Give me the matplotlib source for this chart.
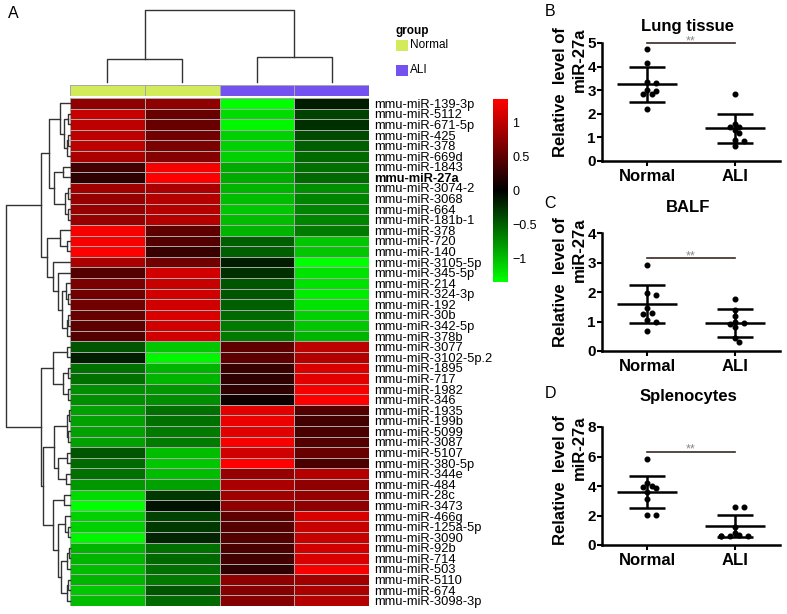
import numpy as np
import matplotlib
matplotlib.use('Agg')
import matplotlib.pyplot as plt
from matplotlib.colors import LinearSegmentedColormap, ListedColormap
from matplotlib.patches import Rectangle

plt.rcParams['font.family'] = ['Liberation Sans', 'DejaVu Sans']

# ---- heatmap data (rows in displayed order) ----
mirnas = ['mmu-miR-139-3p', 'mmu-miR-5112', 'mmu-miR-671-5p', 'mmu-miR-425', 'mmu-miR-378',
          'mmu-miR-669d', 'mmu-miR-1843', 'mmu-miR-27a', 'mmu-miR-3074-2', 'mmu-miR-3068',
          'mmu-miR-664', 'mmu-miR-181b-1', 'mmu-miR-378', 'mmu-miR-720', 'mmu-miR-140',
          'mmu-miR-3105-5p', 'mmu-miR-345-5p', 'mmu-miR-214', 'mmu-miR-324-3p', 'mmu-miR-192',
          'mmu-miR-30b', 'mmu-miR-342-5p', 'mmu-miR-378b', 'mmu-miR-3077', 'mmu-miR-3102-5p.2',
          'mmu-miR-1895', 'mmu-miR-717', 'mmu-miR-1982', 'mmu-miR-346', 'mmu-miR-1935',
          'mmu-miR-199b', 'mmu-miR-5099', 'mmu-miR-3087', 'mmu-miR-5107', 'mmu-miR-380-5p',
          'mmu-miR-344e', 'mmu-miR-484', 'mmu-miR-28c', 'mmu-miR-3473', 'mmu-miR-466g',
          'mmu-miR-125a-5p', 'mmu-miR-3090', 'mmu-miR-92b', 'mmu-miR-714', 'mmu-miR-503',
          'mmu-miR-5110', 'mmu-miR-674', 'mmu-miR-3098-3p']

normal_1 = [0.75, 1.05, 1.0, 1.0, 1.0, 0.9, 0.35, 0.25, 0.85, 0.8, 0.8, 0.8, 1.3, 1.3, 1.35, 0.9,
            0.45, 0.65, 0.6, 0.6, 0.55, 0.5, 0.45, -0.45, -0.15, -0.6, -0.6, -0.75, -0.75, -0.85,
            -0.85, -0.85, -0.85, -0.45, -0.55, -0.6, -0.8, -1.15, -1.35, -1.1, -1.1, -1.3, -0.95,
            -0.95, -1.0, -0.95, -1.05, -1.0]
normal_2 = [0.75, 0.55, 0.55, 0.6, 0.65, 0.7, 1.3, 1.35, 0.9, 0.95, 0.95, 0.95, 0.5, 0.45, 0.3, 0.6,
            1.1, 1.05, 1.1, 1.1, 1.15, 1.1, 1.1, -1.05, -1.3, -0.95, -0.95, -0.8, -0.75, -0.6,
            -0.6, -0.65, -0.65, -1.0, -1.05, -1.0, -0.85, -0.3, -0.1, -0.35, -0.3, -0.2, -0.6,
            -0.55, -0.6, -0.65, -0.45, -0.55]
ali_1 = [-1.35, -1.15, -1.3, -1.1, -1.1, -1.1, -0.9, -0.9, -0.95, -1.0, -1.05, -1.0, -0.95, -0.5,
         -0.5, -0.15, -0.25, -0.45, -0.45, -0.5, -0.55, -0.65, -0.65, 0.5, 0.5, 0.3, 0.25, 0.25,
         0.08, 1.2, 1.25, 1.2, 1.3, 1.1, 1.35, 0.8, 0.9, 0.85, 0.75, 0.5, 0.45, 0.45, 0.4, 0.35,
         0.25, 0.75, 0.7, 0.7]
ali_2 = [-0.15, -0.35, -0.25, -0.4, -0.5, -0.55, -0.6, -0.55, -0.75, -0.7, -0.7, -0.7, -0.65, -1.05,
         -1.05, -1.35, -1.2, -1.2, -1.25, -1.2, -1.1, -1.05, -0.95, 1.0, 0.95, 1.15, 1.2, 1.3, 1.35,
         0.45, 0.35, 0.4, 0.45, 0.55, 0.4, 0.95, 0.75, 0.8, 0.75, 1.15, 1.05, 1.05, 1.1, 1.15, 1.3,
         0.85, 0.9, 0.95]
groups = [0, 0, 1, 1]  # 0 = Normal, 1 = ALI
group_names = ['Normal', 'ALI']

# dendrograms: [left, right, height], leaves are row / column indices
row_tree = [
    [[[0, [[1, 2, 2], [[3, 4, 2], 5, 3], 6], 10],
      [[6, 7, 7], [[8, 9, 2], [10, 11, 2], 5], 16], 21],
     [[12, [13, 14, 3], 10],
      [15, [16, [[17, [18, 19, 2], 4], [[20, 21, 2], 22, 3], 8], 12], 17], 23], 29],
    [[[23, 24, 3], [[25, 26, 2], [27, 28, 2], 7], 17],
     [[[[29, 30, 1], [31, 32, 2], 3], [[33, 34, 3], [35, 36, 4], 12], 16],
      [[37, 38, 6], [[39, [40, 41, 2], 5], [[[42, 43, 1], 44, 3], [[45, 46, 2], 47, 3], 9], 12], 17],
      27], 29],
    64]
col_tree = [[0, 1, 23], [2, 3, 25], 72]

# ---- dot plot data ----
lung_normal = [4.75, 4.15, 3.35, 3.3, 3.0, 2.95, 2.85, 2.85, 2.2]
lung_ali = [2.85, 1.55, 1.45, 1.45, 1.3, 1.2, 0.9, 0.85, 0.65]
lung_mean = [3.25, 1.38]
lung_sd = [0.73, 0.6]

balf_normal = [2.92, 1.95, 1.9, 1.45, 1.3, 1.25, 1.05, 1.0, 0.68]
balf_ali = [1.75, 1.38, 1.2, 1.0, 0.95, 0.9, 0.8, 0.43, 0.32]
balf_mean = [1.6, 0.95]
balf_sd = [0.65, 0.47]

spleen_normal = [5.8, 4.2, 4.0, 3.95, 3.85, 3.6, 3.15, 2.03, 2.03]
spleen_ali = [2.55, 2.55, 1.25, 0.8, 0.65, 0.6, 0.6, 0.6, 0.6]
spleen_mean = [3.62, 1.3]
spleen_sd = [1.08, 0.75]

W, H = 787, 614
c_normal = '#d2eb5a'
c_ali = '#7452ef'


def box(x0, y0, x1, y1):
    # pixel box (from top-left) -> figure fraction rect
    return [x0 / W, 1 - y1 / H, (x1 - x0) / W, (y1 - y0) / H]


def draw_tree(ax, node, horizontal):
    if isinstance(node, int):
        return node + 0.5, 0
    left, right, h = node
    cl, hl = draw_tree(ax, left, horizontal)
    cr, hr = draw_tree(ax, right, horizontal)
    hs = [hl, h, h, hr]
    cs = [cl, cl, cr, cr]
    if horizontal:
        ax.plot(hs, cs, color='#333333', lw=1.0, clip_on=False)
    else:
        ax.plot(cs, hs, color='#333333', lw=1.0, clip_on=False)
    return (cl + cr) / 2, h


def swarm(values, ymax, gap=4.8):
    # simple beeswarm offsets, computed in pixel space
    px_x = 178 / 2.024
    px_y = 118 / ymax
    placed = []
    offs = []
    for v in values:
        for k in [0, 1, -1, 2, -2, 3, -3]:
            dx = k * 4.5
            if all(np.hypot(dx - px, (v - pv) * px_y) >= gap for px, pv in placed):
                break
        placed.append((dx, v))
        offs.append(dx / px_x)
    return np.array(offs)


fig = plt.figure(figsize=(W / 100, H / 100), dpi=100)

# heatmap
data = np.column_stack([normal_1, normal_2, ali_1, ali_2])
cmap = LinearSegmentedColormap.from_list('gkr', ['#00ff00', '#000000', '#ff0000'])
ax = fig.add_axes(box(70, 98, 369, 606))
mesh = ax.pcolormesh(data, cmap=cmap, vmin=-1.35, vmax=1.35, edgecolors='#a8a8a8', linewidth=0.6)
ax.set_xlim(0, 4)
ax.set_ylim(len(mirnas), 0)
ax.set_xticks([])
ax.yaxis.tick_right()
ax.set_yticks(np.arange(len(mirnas)) + 0.5, mirnas)
ax.tick_params(axis='y', length=0, pad=4, labelsize=9.3)
ax.get_yticklabels()[7].set_fontweight('bold')
for s in ax.spines.values():
    s.set_visible(False)

# row dendrogram
axr = fig.add_axes(box(0, 98, 70, 606))
draw_tree(axr, row_tree, True)
axr.set_xlim(70, 0)
axr.set_ylim(len(mirnas), 0)
axr.axis('off')

# column dendrogram
axc = fig.add_axes(box(70, 0, 369, 82))
draw_tree(axc, col_tree, False)
axc.set_xlim(0, 4)
axc.set_ylim(0, 82)
axc.axis('off')

# group bar
axg = fig.add_axes(box(70, 85, 369, 96))
axg.pcolormesh([groups], cmap=ListedColormap([c_normal, c_ali]), vmin=0, vmax=1,
               edgecolors='#a8a8a8', linewidth=0.6)
axg.set_xlim(0, 4)
axg.axis('off')

# legend (drawn by hand to match the layout)
fig.text(396 / W, 1 - 31 / H, 'group', fontsize=8.5, fontweight='bold', ha='left', va='center')
for i, (name, col) in enumerate(zip(group_names, [c_normal, c_ali])):
    yc = 45.5 + i * 24.5
    fig.patches.append(Rectangle((396 / W, 1 - (yc + 5.5) / H), 12 / W, 11 / H, facecolor=col,
                                 edgecolor='none', transform=fig.transFigure))
    fig.text(410 / W, 1 - yc / H, name, fontsize=8.5, ha='left', va='center')

# colorbar
cax = fig.add_axes(box(493, 99, 508, 282))
cb = fig.colorbar(mesh, cax=cax, ticks=[-1, -0.5, 0, 0.5, 1])
cb.set_ticklabels(['\u22121', '\u22120.5', '0', '0.5', '1'])
cb.outline.set_visible(False)
cax.tick_params(length=0, labelsize=9, pad=3)

fig.text(13 / W, 1 - 14 / H, 'A', fontsize=11.5, ha='center', va='center')


def dot_panel(y_top, y_bot, normal, ali, means, sds, ymax, yticks, sig_y, title, title_dy,
              letter, letter_y, label_y):
    ax = fig.add_axes(box(602, y_top, 780, y_bot))
    for i, vals in enumerate([normal, ali]):
        vals = np.asarray(vals)
        ax.scatter(i + swarm(vals, ymax), vals, s=11, color='black', zorder=3, clip_on=False)
        ax.hlines(means[i], i - 0.34, i + 0.34, color='black', lw=1.8, zorder=4)
        ax.errorbar(i, means[i], yerr=sds[i], color='black', elinewidth=1.8, capsize=13,
                    capthick=1.8, zorder=4)
    ax.plot([0, 1], [sig_y, sig_y], color='#3a2a22', lw=1.2, clip_on=False)
    ax.annotate('**', (0.5, sig_y), xytext=(0, -3), textcoords='offset points', ha='center',
                va='bottom', color='#888888', fontsize=9, annotation_clip=False)
    ax.set_xlim(-0.512, 1.512)
    ax.set_ylim(0, ymax)
    ax.set_yticks(yticks)
    ax.set_xticks([0, 1], ['Normal', 'ALI'])
    for s in ['top', 'right']:
        ax.spines[s].set_visible(False)
    for s in ['left', 'bottom']:
        ax.spines[s].set_linewidth(1.8)
    ax.tick_params(direction='out', length=3.5, width=1.5)
    ax.tick_params(axis='x', labelsize=12, pad=2)
    ax.tick_params(axis='y', labelsize=11, pad=1)
    for lab in ax.get_xticklabels() + ax.get_yticklabels():
        lab.set_fontweight('bold')
    ax.text(0.483, 1 + title_dy / 118, title, transform=ax.transAxes, ha='center', va='center',
            fontsize=12, fontweight='bold')
    ax.text(-0.18, label_y, 'Relative  level of\nmiR-27a', transform=ax.transAxes, rotation=90,
            ha='center', va='center', multialignment='right', fontsize=12, fontweight='bold',
            linespacing=1.25)
    fig.text(550 / W, 1 - letter_y / H, letter, fontsize=11.5, ha='center', va='center')


dot_panel(43, 161, lung_normal, lung_ali, lung_mean, lung_sd, 5, [0, 1, 2, 3, 4, 5], 4.99,
          'Lung tissue', 16, 'B', 12, 0.58)
dot_panel(233, 351, balf_normal, balf_ali, balf_mean, balf_sd, 4, [0, 1, 2, 3, 4], 3.16,
          'BALF', 26, 'C', 204, 0.58)
dot_panel(427, 545, spleen_normal, spleen_ali, spleen_mean, spleen_sd, 8, [0, 2, 4, 6, 8], 6.33,
          'Splenocytes', 30, 'D', 394, 0.55)

fig.savefig('out.png', dpi=100)
